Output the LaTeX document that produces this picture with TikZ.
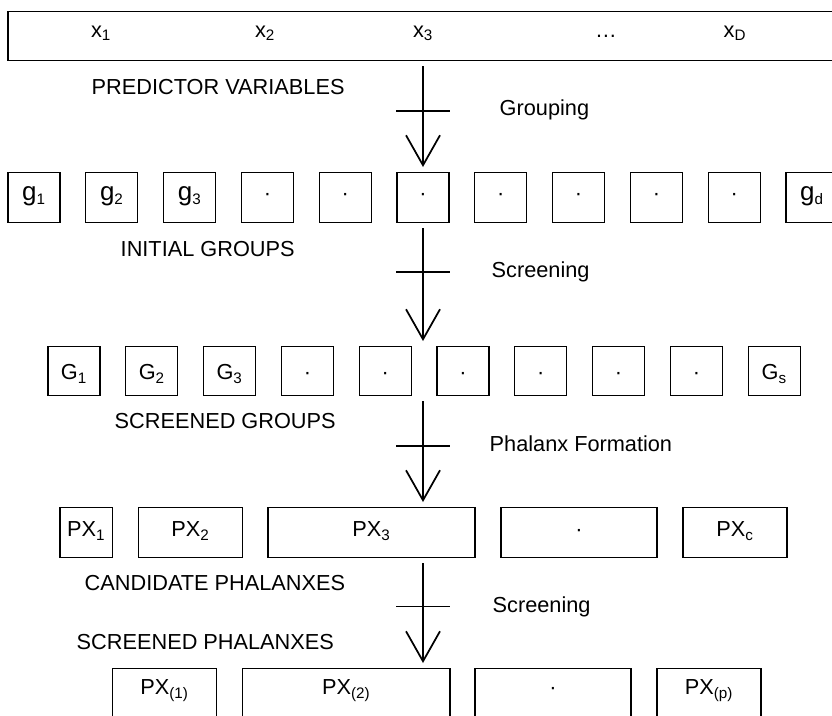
\documentclass[tikz,border=0pt]{standalone}
\usepackage{fontspec}
\setmainfont{Liberation Sans}
\usetikzlibrary{arrows.meta,positioning,calc}

\newcommand{\glab}[1]{{\fontsize{19.5}{23}\selectfont g}\textsubscript{#1}}

\tikzset{
  box/.style={draw, line width=1pt, inner sep=0pt, anchor=north},
  grpbox/.style={box, minimum width=39pt, text height=21pt, text depth=16.5pt},
  scrbox/.style={box, minimum width=39pt, text height=24.75pt, text depth=12pt},
  phxbox/.style={box, text height=21.75pt, text depth=15.75pt},
  finbox/.style={box, text height=19.5pt, text depth=27pt},
  flow/.style={line width=1.3pt, -{Straight Barb[length=22.5pt,width=25.5pt]}, shorten <=3.75pt, shorten >=3.75pt},
  bar/.style={line width=1.3pt},
  stage/.style={anchor=base west}
}

\begin{document}
\begin{tikzpicture}[x=0.75pt, y=-0.75pt, font=\fontsize{16.3}{19}\selectfont]
    \useasboundingbox (0,0) rectangle (832,715);
    \clip (0,0) rectangle (832,715);

    % Predictor variables
    \node[box, minimum width=624pt, minimum height=36.75pt] (pv) at (424,11) {};
    \foreach \x/\t [count=\n] in {101/x\textsubscript{1}, 265/x\textsubscript{2}, 423/x\textsubscript{3}, 606/\ldots, 735/x\textsubscript{D}}
        \node[anchor=base] (x\n) at (\x,37) {\t};
    \node[stage] (lpv) at (87,94) {PREDICTOR VARIABLES};

    % Initial groups
    \foreach \t [count=\n] in {\glab{1},\glab{2},\glab{3},·,·,·,·,·,·,·,\glab{d}}
        \node[grpbox] (g\n) at ({34+77.8*(\n-1)},172) {\t};
    \node[stage] (lig) at (116,256) {INITIAL GROUPS};

    % Screened groups
    \foreach \t [count=\n] in {G\textsubscript{1},G\textsubscript{2},G\textsubscript{3},·,·,·,·,·,·,G\textsubscript{s}}
        \node[scrbox] (G\n) at ({74+77.8*(\n-1)},346) {\t};
    \node[stage] (lsg) at (110,428) {SCREENED GROUPS};

    % Candidate phalanxes
    \foreach \x/\w/\t [count=\n] in {86.25/39.4/PX\textsubscript{1}, 190.5/78/PX\textsubscript{2}, 371.5/155.25/PX\textsubscript{3}, 579/117/·, 735/78/PX\textsubscript{c}}
        \node[phxbox, minimum width=\w pt] (PX\n) at (\x,507) {\t};
    \node[stage] (lcp) at (80,590) {CANDIDATE PHALANXES};

    % Screened phalanxes
    \node[stage] (lsp) at (72,649) {SCREENED PHALANXES};
    \foreach \x/\w/\t [count=\n] in {164.5/78/PX\textsubscript{(1)}, 346.25/155.6/PX\textsubscript{(2)}, 553/117/·, 709/78/PX\textsubscript{(p)}}
        \node[finbox, minimum width=\w pt] (SP\n) at (\x,668) {\t};

    % Arrows
    \draw[flow] (pv.south -| g6) -- coordinate[pos=.446] (t1) (g6.north);
    \draw[flow] (g6.south) -- coordinate[pos=.395] (t2) (g6.south |- G1.north);
    \draw[flow] (g6 |- G1.south) -- coordinate[pos=.446] (t3) (g6 |- PX1.north);
    \draw[flow] (g6 |- PX1.south) -- coordinate[pos=.44] (t4) (g6 |- SP1.north);
    \foreach \t in {t1,t2,t3,t4}
        \draw[bar] ([xshift=-20.25pt]\t) -- ([xshift=20.25pt]\t);

    % Steps
    \node[stage] (sgrp) at (495,115) {Grouping};
    \node[stage] (sscr) at (487,277) {Screening};
    \node[stage] (sphx) at (485,451) {Phalanx Formation};
    \node[stage] (sscp) at (488,612) {Screening};
\end{tikzpicture}
\end{document}
